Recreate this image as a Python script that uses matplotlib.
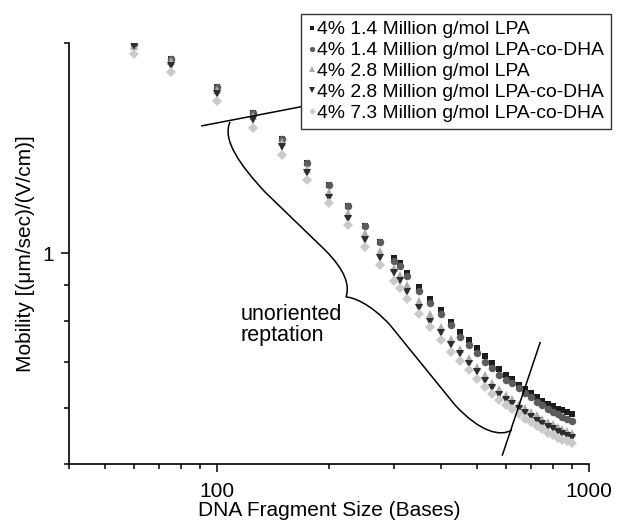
import matplotlib
matplotlib.use("Agg")
import matplotlib.pyplot as plt
from matplotlib.path import Path
from matplotlib.patches import PathPatch
from matplotlib.ticker import FixedLocator, NullFormatter, FixedFormatter

plt.rcParams['font.family'] = ['Liberation Sans', 'DejaVu Sans']

# fragment sizes (bases)
sizes = [60, 75, 100, 125, 150, 175, 200, 225, 250, 275, 300, 310, 325, 350, 375,
         400, 425, 450, 475, 500, 525, 550, 575, 600, 620, 650, 675, 700, 725, 750,
         775, 800, 825, 850, 875, 900]

# mobility [(um/sec)/(V/cm)]
lpa_14 = [1.993, 1.897, 1.729, 1.587, 1.457, 1.347, 1.252, 1.169, 1.094, 1.038,
          0.985, 0.969, 0.938, 0.896, 0.859, 0.830, 0.798, 0.772, 0.751, 0.731,
          0.713, 0.697, 0.682, 0.670, 0.661, 0.648, 0.639, 0.631, 0.622, 0.615,
          0.609, 0.604, 0.599, 0.596, 0.592, 0.588]
dha_14 = [1.993, 1.897, 1.729, 1.587, 1.457, 1.345, 1.252, 1.169, 1.094, 1.036,
          0.976, 0.959, 0.928, 0.884, 0.848, 0.819, 0.790, 0.760, 0.739, 0.719,
          0.700, 0.685, 0.670, 0.659, 0.652, 0.642, 0.631, 0.622, 0.613, 0.606,
          0.599, 0.593, 0.588, 0.583, 0.579, 0.575]
lpa_28 = [1.980, 1.880, 1.713, 1.572, 1.444, 1.319, 1.225, 1.141, 1.068, 1.008,
          0.952, 0.931, 0.901, 0.855, 0.819, 0.784, 0.753, 0.729, 0.708, 0.687,
          0.670, 0.653, 0.639, 0.627, 0.619, 0.609, 0.601, 0.593, 0.586, 0.579,
          0.574, 0.569, 0.564, 0.561, 0.556, 0.553]
dha_28 = [1.975, 1.853, 1.690, 1.551, 1.420, 1.301, 1.198, 1.118, 1.045, 0.985,
          0.936, 0.913, 0.880, 0.835, 0.798, 0.768, 0.739, 0.718, 0.694, 0.677,
          0.657, 0.641, 0.627, 0.617, 0.609, 0.599, 0.591, 0.583, 0.576, 0.570,
          0.564, 0.560, 0.555, 0.551, 0.548, 0.545]
dha_73 = [1.928, 1.815, 1.653, 1.510, 1.382, 1.273, 1.179, 1.098, 1.022, 0.962,
          0.911, 0.891, 0.859, 0.819, 0.784, 0.751, 0.723, 0.702, 0.681, 0.660,
          0.643, 0.629, 0.617, 0.607, 0.599, 0.589, 0.580, 0.573, 0.566, 0.560,
          0.554, 0.550, 0.545, 0.541, 0.538, 0.535]

labels = ["4% 1.4 Million g/mol LPA",
          "4% 1.4 Million g/mol LPA-co-DHA",
          "4% 2.8 Million g/mol LPA",
          "4% 2.8 Million g/mol LPA-co-DHA",
          "4% 7.3 Million g/mol LPA-co-DHA"]
series = [lpa_14, dha_14, lpa_28, dha_28, dha_73]
markers = ["s", "o", "^", "v", "D"]
colors = ["#1c1c1c", "#5c5c5c", "#ababab", "#2e2e2e", "#cacaca"]
msizes = [5.0, 5.4, 5.6, 5.6, 4.6]

fig = plt.figure(figsize=(6.18, 5.23), dpi=100)
ax = fig.add_axes([0.1117, 0.1134, 0.8409, 0.8050])

for ys, m, c, s, lab in zip(series, markers, colors, msizes, labels):
    ax.plot(sizes, ys, linestyle="none", marker=m, color=c, markersize=s,
            markeredgewidth=0, label=lab)

ax.set_xscale("log")
ax.set_yscale("log")
ax.set_xlim(40, 1000)
ax.set_ylim(0.5, 2.0)

ax.xaxis.set_major_locator(FixedLocator([100, 1000]))
ax.xaxis.set_major_formatter(FixedFormatter(["100", "1000"]))
ax.xaxis.set_minor_locator(FixedLocator([40, 50, 60, 70, 80, 90, 200, 300, 400,
                                         500, 600, 700, 800, 900]))
ax.xaxis.set_minor_formatter(NullFormatter())
ax.yaxis.set_major_locator(FixedLocator([1]))
ax.yaxis.set_major_formatter(FixedFormatter(["1"]))
ax.yaxis.set_minor_locator(FixedLocator([0.5, 0.6, 0.7, 0.8, 0.9, 2.0]))
ax.yaxis.set_minor_formatter(NullFormatter())

ax.spines["top"].set_visible(False)
ax.spines["right"].set_visible(False)
for sp in ("left", "bottom"):
    ax.spines[sp].set_linewidth(1.2)
ax.tick_params(which="major", length=6, width=1.1, labelsize=15)
ax.tick_params(which="minor", length=3.5, width=1.1)
ax.tick_params(axis="x", which="major", pad=7.5)
ax.tick_params(axis="y", which="major", pad=5)

ax.set_xlabel("DNA Fragment Size (Bases)", fontsize=15, labelpad=0)
ax.set_ylabel("Mobility [(μm/sec)/(V/cm)]", fontsize=15, labelpad=5)

# annotation lines (data coords)
ax.plot([91.1, 175], [1.521, 1.626], color="black", lw=1.1, clip_on=False)
ax.plot([586, 740], [0.5146, 0.745], color="black", lw=1.1, clip_on=False)

# curly brace drawn in pixel space (x, y from top)
W, H = 618.0, 523.0
brace_px = [(230, 122), (222, 140), (240, 165), (265, 192),
            (325, 250),
            (345, 270), (350, 285), (346, 297),
            (352, 297), (370, 303), (390, 325),
            (455, 405),
            (480, 432), (500, 437), (512, 430)]
codes = [Path.MOVETO, Path.CURVE4, Path.CURVE4, Path.CURVE4,
         Path.LINETO,
         Path.CURVE4, Path.CURVE4, Path.CURVE4,
         Path.CURVE4, Path.CURVE4, Path.CURVE4,
         Path.LINETO,
         Path.CURVE4, Path.CURVE4, Path.CURVE4]
verts = [(x / W, 1 - y / H) for x, y in brace_px]
fig.patches.append(PathPatch(Path(verts, codes), transform=fig.transFigure,
                             facecolor="none", edgecolor="black", lw=1.1))

fig.text(241 / W, 1 - 304 / H, "unoriented\nreptation", fontsize=15.5,
         ha="left", va="top", linespacing=1.0)

leg = ax.legend(loc="upper right", bbox_to_anchor=(611 / W, 1 - 14 / H),
                bbox_transform=fig.transFigure, fontsize=13.9, frameon=True,
                fancybox=False, edgecolor="#333333", framealpha=1,
                handlelength=0.35, handletextpad=0.12, borderpad=0.35,
                labelspacing=0.18, borderaxespad=0, markerscale=0.7)
leg.get_frame().set_linewidth(1.0)

fig.savefig("out.png", dpi=100)
